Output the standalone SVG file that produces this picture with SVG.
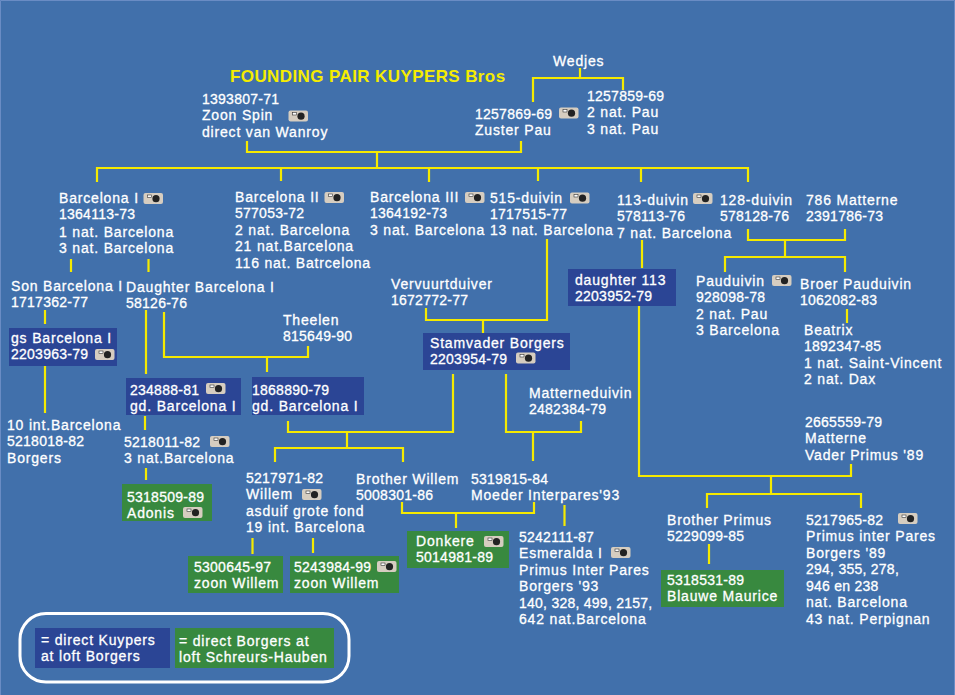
<svg xmlns="http://www.w3.org/2000/svg" width="955" height="695" viewBox="0 0 955 695">
<style>
text{font-family:"Liberation Sans",Arial,sans-serif;font-size:14px;letter-spacing:.82px;fill:#fff;stroke:#fff;stroke-width:.3px}
text.n{letter-spacing:.25px}
text.title{font-size:17px;font-weight:bold;fill:#f5ec00;stroke:none;letter-spacing:.4px}
.c path{fill:none;stroke:#f5ea00;stroke-width:2.2}
.b{fill:#2b4595}.g{fill:#38893f}
</style>
<defs>
<g id="cam"><rect width="19.500" height="11" rx="2" fill="#d6cdc0"/><circle cx="12.500" cy="5.700" r="3.600" fill="#222"/><rect x="4" y="2" width="4" height="2.500" fill="#fff" stroke="#333" stroke-width=".6"/></g>
</defs>
<rect width="955" height="695" fill="#4170ab"/>
<path d="M.5,695V.5H954.500V695" fill="none" stroke="#6a8cc4" stroke-width="1"/>
<text class="title" x="230" y="82">FOUNDING PAIR KUYPERS Bros</text>
<g class="c" id="connectors">
<path d="M247,141V152H521V141"/><path d="M377,152V168"/>
<path d="M97,182V168H748V182"/><path d="M281,168V181M429,168V182M538,168V181M641,168V182"/>
<path d="M580,68V78M533,102V78H623V90"/>
<path d="M71,259V272M148.500,259V272M45,310V324M45,366V413M146,310V374"/>
<path d="M164,312V357H308V346M267,357V372"/>
<path d="M426,308V320H547V239M483,320V333"/>
<path d="M642,240V268"/>
<path d="M748,229V240H845V229M785,240V257M725,272V257H845V272M847,309V323"/>
<path d="M639,306V476H851V464M771,476V494M707,508V494H861V508M709,544V564"/>
<path d="M453,374V432H288V421M347,432V448M275,462V448H403V462"/>
<path d="M506,374V432H581V421M533,432V461"/>
<path d="M402,502V513H534V502M456,513V528M564.500,505V526"/>
<path d="M146,468V480M145,416V430M252.500,538V554M313,538V553"/>
</g>
<g id="n-spin"><text class="n" x="202" y="104">1393807-71</text><text x="202" y="120">Zoon Spin</text><text x="202" y="137">direct van Wanroy</text><use href="#cam" x="288.500" y="110.500"/></g>
<g id="n-wedjes"><text x="553" y="66">Wedjes</text></g>
<g id="n-1257859"><text class="n" x="587" y="101">1257859-69</text><text x="587" y="117">2 nat. Pau</text><text x="587" y="134">3 nat. Pau</text></g>
<g id="n-zuster"><text class="n" x="475" y="119">1257869-69</text><text x="475" y="135">Zuster Pau</text><use href="#cam" x="559" y="107.500"/></g>
<g id="n-b1"><text x="59" y="203">Barcelona I</text><text class="n" x="59" y="219">1364113-73</text><text x="59" y="237">1 nat. Barcelona</text><text x="59" y="253">3 nat. Barcelona</text><use href="#cam" x="143.500" y="193"/></g>
<g id="n-b2"><text x="235" y="202">Barcelona II</text><text class="n" x="235" y="218">577053-72</text><text x="235" y="235">2 nat. Barcelona</text><text x="235" y="251">21 nat.Barcelona</text><text x="235" y="268">116 nat. Batrcelona</text><use href="#cam" x="324.500" y="192"/></g>
<g id="n-b3"><text x="370" y="202">Barcelona III</text><text class="n" x="370" y="218">1364192-73</text><text x="370" y="235">3 nat. Barcelona</text><use href="#cam" x="465" y="192"/></g>
<g id="n-515"><text x="490" y="203">515-duivin</text><text class="n" x="490" y="219">1717515-77</text><text x="490" y="235">13 nat. Barcelona</text><use href="#cam" x="570" y="192.500"/></g>
<g id="n-113"><text x="617" y="205">113-duivin</text><text class="n" x="617" y="221">578113-76</text><text x="617" y="238">7 nat. Barcelona</text><use href="#cam" x="693" y="193"/></g>
<g id="n-128"><text x="720" y="205">128-duivin</text><text class="n" x="720" y="221">578128-76</text></g>
<g id="n-786"><text x="806" y="205">786 Matterne</text><text class="n" x="806" y="221">2391786-73</text></g>
<g id="n-son"><text x="11" y="291">Son Barcelona I</text><text class="n" x="11" y="307">1717362-77</text></g>
<g id="n-daughter"><text x="126" y="292">Daughter Barcelona I</text><text class="n" x="126" y="308">58126-76</text></g>
<g id="n-theelen"><text x="283" y="325">Theelen</text><text class="n" x="283" y="341">815649-90</text></g>
<g id="n-vervuurt"><text x="391" y="289">Vervuurtduiver</text><text class="n" x="391" y="305">1672772-77</text></g>
<g id="n-gs"><rect class="b" x="9" y="328" width="108" height="38"/><text x="11" y="343">gs Barcelona I</text><text class="n" x="11" y="359">2203963-79</text><use href="#cam" x="95" y="349"/></g>
<g id="n-stam"><rect class="b" x="423" y="333" width="147" height="37"/><text x="430" y="348">Stamvader Borgers</text><text class="n" x="430" y="364">2203954-79</text><use href="#cam" x="516" y="352.500"/></g>
<g id="n-d113"><rect class="b" x="568" y="269" width="108" height="37"/><text x="575" y="285">daughter 113</text><text class="n" x="575" y="301">2203952-79</text></g>
<g id="n-pau"><text x="696" y="286">Pauduivin</text><text class="n" x="696" y="302">928098-78</text><text x="696" y="319">2 nat. Pau</text><text x="696" y="335">3 Barcelona</text><use href="#cam" x="772" y="275"/></g>
<g id="n-broer"><text x="800" y="289">Broer Pauduivin</text><text class="n" x="800" y="305">1062082-83</text></g>
<g id="n-beatrix"><text x="804" y="335">Beatrix</text><text class="n" x="804" y="351">1892347-85</text><text x="804" y="368">1 nat. Saint-Vincent</text><text x="804" y="384">2 nat. Dax</text></g>
<g id="n-234888"><rect class="b" x="126" y="378" width="115" height="37"/><text class="n" x="130" y="395">234888-81</text><text x="130" y="411">gd. Barcelona I</text><use href="#cam" x="206" y="383"/></g>
<g id="n-1868890"><rect class="b" x="252" y="377" width="112" height="38"/><text class="n" x="252" y="395">1868890-79</text><text x="252" y="411">gd. Barcelona I</text></g>
<g id="n-10int"><text x="7" y="430">10 int.Barcelona</text><text class="n" x="7" y="446">5218018-82</text><text x="7" y="463">Borgers</text></g>
<g id="n-5218011"><text class="n" x="124" y="447">5218011-82</text><text x="124" y="463">3 nat.Barcelona</text><use href="#cam" x="210" y="436"/></g>
<g id="n-adonis"><rect class="g" x="122" y="484" width="90" height="37"/><text class="n" x="127" y="502">5318509-89</text><text x="127" y="518">Adonis</text><use href="#cam" x="183" y="507"/></g>
<g id="n-willem"><text class="n" x="246" y="483">5217971-82</text><text x="246" y="499">Willem</text><text x="246" y="516">asduif grote fond</text><text x="246" y="532">19 int. Barcelona</text><use href="#cam" x="302" y="489"/></g>
<g id="n-bwillem"><text x="356" y="484">Brother Willem</text><text class="n" x="356" y="500">5008301-86</text></g>
<g id="n-moeder"><text class="n" x="471" y="484">5319815-84</text><text x="471" y="500">Moeder Interpares'93</text></g>
<g id="n-matterneduivin"><text x="529" y="398">Matterneduivin</text><text class="n" x="529" y="414">2482384-79</text></g>
<g id="n-2665559"><text class="n" x="805" y="427">2665559-79</text><text x="805" y="443">Matterne</text><text x="805" y="460">Vader Primus '89</text></g>
<g id="n-bprimus"><text x="667" y="525">Brother Primus</text><text class="n" x="667" y="541">5229099-85</text></g>
<g id="n-primus"><text class="n" x="806" y="525">5217965-82</text><text x="806" y="541">Primus inter Pares</text><text x="806" y="558">Borgers '89</text><text class="n" x="806" y="574">294, 355, 278,</text><text class="n" x="806" y="591">946 en 238</text><text x="806" y="607">nat. Barcelona</text><text x="806" y="624">43 nat. Perpignan</text><use href="#cam" x="898" y="513"/></g>
<g id="n-esmeralda"><text class="n" x="519" y="542">5242111-87</text><text x="519" y="558">Esmeralda I</text><text x="519" y="575">Primus Inter Pares</text><text x="519" y="591">Borgers '93</text><text class="n" x="519" y="608">140, 328, 499, 2157,</text><text x="519" y="624">642 nat.Barcelona</text><use href="#cam" x="611" y="547"/></g>
<g id="n-donkere"><rect class="g" x="407" y="531" width="102" height="37"/><text x="416" y="546">Donkere</text><text class="n" x="416" y="562">5014981-89</text><use href="#cam" x="484" y="536"/></g>
<g id="n-maurice"><rect class="g" x="661" y="570" width="123" height="37"/><text class="n" x="667" y="585">5318531-89</text><text x="667" y="601">Blauwe Maurice</text></g>
<g id="n-5300645"><rect class="g" x="188" y="556" width="95" height="37"/><text class="n" x="194" y="572">5300645-97</text><text x="194" y="588">zoon Willem</text></g>
<g id="n-5243984"><rect class="g" x="290" y="556" width="109" height="37"/><text class="n" x="294" y="572">5243984-99</text><text x="294" y="588">zoon Willem</text><use href="#cam" x="377" y="561"/></g>
<g id="legend"><rect x="20" y="613.500" width="329" height="68.500" rx="26" fill="none" stroke="#fff" stroke-width="3"/><rect class="b" x="35" y="628" width="135" height="40"/><text x="41" y="645">= direct Kuypers</text><text x="41" y="661">at loft Borgers</text><rect class="g" x="175" y="628" width="159" height="40"/><text x="179" y="646">= direct Borgers at</text><text x="179" y="662">loft Schreurs-Hauben</text></g>
</svg>
